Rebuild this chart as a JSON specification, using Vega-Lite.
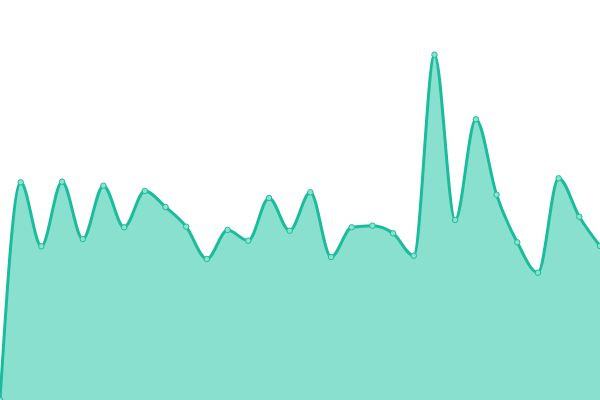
{
  "$schema": "https://vega.github.io/schema/vega-lite/v6.json",
  "width": 600,
  "height": 400,
  "autosize": {"type": "none"},
  "padding": 0,
  "config": {"view": {"stroke": null}},
  "data": {
    "values": [
      {"i": 0, "v": 0},
      {"i": 1, "v": 217.7},
      {"i": 2, "v": 153.7},
      {"i": 3, "v": 218.3},
      {"i": 4, "v": 161},
      {"i": 5, "v": 214.3},
      {"i": 6, "v": 172.7},
      {"i": 7, "v": 209},
      {"i": 8, "v": 193},
      {"i": 9, "v": 173.3},
      {"i": 10, "v": 141},
      {"i": 11, "v": 170},
      {"i": 12, "v": 159.3},
      {"i": 13, "v": 202},
      {"i": 14, "v": 169.3},
      {"i": 15, "v": 207.7},
      {"i": 16, "v": 143},
      {"i": 17, "v": 172.7},
      {"i": 18, "v": 174.3},
      {"i": 19, "v": 166.7},
      {"i": 20, "v": 144.3},
      {"i": 21, "v": 345.3},
      {"i": 22, "v": 180},
      {"i": 23, "v": 280.7},
      {"i": 24, "v": 205.3},
      {"i": 25, "v": 157.7},
      {"i": 26, "v": 127.3},
      {"i": 27, "v": 221.7},
      {"i": 28, "v": 183.3},
      {"i": 29, "v": 154}
    ]
  },
  "encoding": {
    "x": {"field": "i", "type": "quantitative", "axis": null, "scale": {"domain": [0, 29], "nice": false, "zero": false}},
    "y": {"field": "v", "type": "quantitative", "axis": null, "scale": {"domain": [0, 400], "nice": false}}
  },
  "layer": [
    {"mark": {"type": "area", "interpolate": "monotone", "color": "#8ae0cf"}},
    {"mark": {"type": "line", "interpolate": "monotone", "color": "#1abc9c", "strokeWidth": 3}},
    {"mark": {"type": "point", "filled": true, "fill": "#8de2cf", "stroke": "#1abc9c", "strokeWidth": 1, "size": 30, "opacity": 1}}
  ]
}
